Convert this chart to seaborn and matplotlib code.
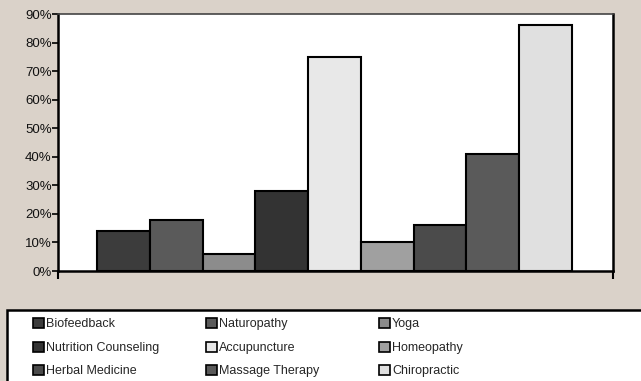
import matplotlib
matplotlib.use("Agg")
import matplotlib.pyplot as plt
from matplotlib.patches import Patch, Rectangle
import seaborn as sns
import pandas as pd

# Share of respondents using each therapy
therapies = ["Biofeedback", "Naturopathy", "Yoga", "Nutrition Counseling",
             "Accupuncture", "Homeopathy", "Herbal Medicine",
             "Massage Therapy", "Chiropractic"]
shares = [14, 18, 6, 28, 75, 10, 16, 41, 86]
fills = ["#3c3c3c", "#5a5a5a", "#8c8c8c", "#333333", "#e8e8e8",
         "#a0a0a0", "#4b4b4b", "#5a5a5a", "#e0e0e0"]
ytick_values = [0, 10, 20, 30, 40, 50, 60, 70, 80, 90]
ytick_labels = [f"{v}%" for v in ytick_values]

bg = "#dad2c9"
sns.set_theme(style="white")
plt.rcParams["font.family"] = ["Liberation Sans", "DejaVu Sans"]

W, H = 641, 381
fig = plt.figure(figsize=(W / 100, H / 100), dpi=100, facecolor=bg)
ax = fig.add_axes([58 / W, 1 - 271 / H, (613 - 58) / W, (271 - 14) / H])
ax.set_facecolor("white")

df = pd.DataFrame({"therapy": therapies, "share": shares})
sns.barplot(data=df, x="therapy", y="share", hue="therapy",
            palette=dict(zip(therapies, fills)), width=1.0,
            edgecolor="black", linewidth=1.5, legend=False, ax=ax,
            order=therapies, hue_order=therapies)

ax.set_xlim(-1.24, 9.28)
ax.set_ylim(0, 90)
ax.set_xlabel("")
ax.set_ylabel("")
ax.set_xticks([-1.24, 9.28])
ax.set_xticklabels(["", ""])
ax.set_yticks(ytick_values)
ax.set_yticklabels(ytick_labels, fontsize=9.5, color="#111111")
ax.tick_params(axis="y", direction="out", length=4, width=1.2, pad=0.5,
               left=True, color="black")
ax.tick_params(axis="x", direction="out", length=6, width=1.5,
               bottom=True, color="black")
for side in ["left", "bottom", "right"]:
    ax.spines[side].set_color("black")
    ax.spines[side].set_linewidth(1.8)
ax.spines["top"].set_color("#444444")
ax.spines["top"].set_linewidth(1.2)
ax.grid(False)

# Legend panel
panel = Rectangle((7 / W, -0.1), 1.2, 1 - 310 / H + 0.1,
                  transform=fig.transFigure, facecolor="white",
                  edgecolor="black", linewidth=1.8, zorder=0)
fig.patches.append(panel)

handles = [Patch(facecolor=c, edgecolor="black", linewidth=1.2) for c in fills]
col_x = [33, 206, 379]
for col, x in enumerate(col_x):
    idx = [col, col + 3, col + 6]
    fig.legend([handles[i] for i in idx], [therapies[i] for i in idx],
               loc="upper left", bbox_to_anchor=(x / W, 1 - 318 / H),
               frameon=False, fontsize=9, borderpad=0, borderaxespad=0,
               handlelength=0.85, handleheight=0.85, handletextpad=0.2,
               labelspacing=0.9)

fig.savefig("out.png", dpi=100, facecolor=bg)
